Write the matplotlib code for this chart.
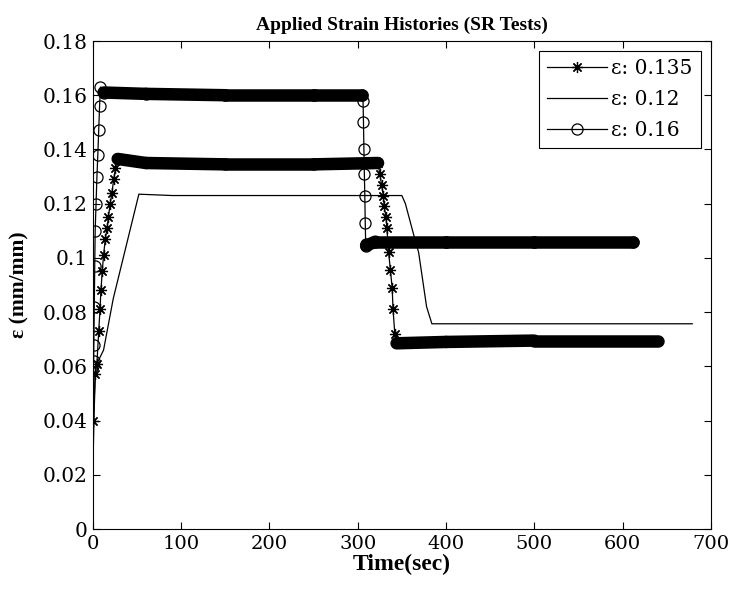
import numpy as np
import matplotlib
matplotlib.use('Agg')
import matplotlib.pyplot as plt

plt.rcParams['font.family'] = ['Liberation Serif', 'DejaVu Serif']

# strain histories (time in sec, strain in mm/mm)
t_135 = [0.5, 2.5, 4.5, 6.5, 8, 9, 10.5, 12, 14, 16, 17.5, 19.5, 21.5, 23.5, 25.5, 28,
         60, 150, 250, 323, 325, 327, 329, 330, 332, 333, 335, 337, 339, 340, 342, 344,
         400, 500, 640]
e_135 = [0.040, 0.057, 0.061, 0.073, 0.081, 0.088, 0.095, 0.101, 0.107, 0.111, 0.115, 0.120,
         0.124, 0.129, 0.133, 0.1365, 0.135, 0.1345, 0.1345, 0.135, 0.131, 0.127, 0.123, 0.119,
         0.115, 0.111, 0.102, 0.0955, 0.089, 0.081, 0.072, 0.0685, 0.069, 0.0695, 0.0695]

t_12 = [0, 1.5, 3, 6, 12, 23, 52, 90, 150, 250, 300, 350, 354, 363, 369, 378, 384,
        420, 500, 600, 679]
e_12 = [0.024, 0.045, 0.060, 0.062, 0.066, 0.085, 0.1235, 0.123, 0.123, 0.123, 0.123,
        0.123, 0.120, 0.109, 0.102, 0.082, 0.0757, 0.0757, 0.0757, 0.0757, 0.0757]

t_16 = [0.5, 0.8, 1.0, 1.5, 2.0, 2.5, 3.5, 4.5, 5.5, 6.5, 7.5, 8.5,
        12, 60, 150, 250, 305, 306, 306.5, 307, 307.5, 308, 308.5, 309, 309.5,
        320, 400, 500, 612]
e_16 = [0.060, 0.062, 0.068, 0.082, 0.097, 0.110, 0.120, 0.130, 0.138, 0.147, 0.156, 0.163,
        0.161, 0.1605, 0.160, 0.160, 0.160, 0.158, 0.150, 0.140, 0.131, 0.123, 0.113, 0.105,
        0.1045, 0.106, 0.106, 0.106, 0.106]

labels = ['\u03b5: 0.135', '\u03b5: 0.12', '\u03b5: 0.16']
x_ticks = [0, 100, 200, 300, 400, 500, 600, 700]
y_ticks = [0, 0.02, 0.04, 0.06, 0.08, 0.1, 0.12, 0.14, 0.16, 0.18]
y_tick_labels = ['0', '0.02', '0.04', '0.06', '0.08', '0.1', '0.12', '0.14', '0.16', '0.18']

TICK_FONT = ['DejaVu Serif']


def plateau_band(ax, t, e, lw=9):
    # dense markers in the original merge into a thick bar on the flat parts
    t = np.asarray(t, float)
    e = np.asarray(e, float)
    slope = np.abs(np.diff(e) / np.diff(t))
    for i in np.where(slope < 2e-4)[0]:
        ax.plot(t[i:i + 2], e[i:i + 2], color='k', lw=lw, solid_capstyle='round', zorder=2)


fig = plt.figure(figsize=(7.32, 5.96), dpi=100)
ax = fig.add_axes([0.127, 0.1124, 0.844, 0.8188])

h1, = ax.plot(t_135, e_135, color='k', lw=0.9, marker=(8, 2, 0), ms=8, mew=0.9, zorder=3)
h2, = ax.plot(t_12, e_12, color='k', lw=0.9, zorder=3)
h3, = ax.plot(t_16, e_16, color='k', lw=0.9, marker='o', ms=8, mfc='none', mew=0.9, zorder=3)
plateau_band(ax, t_135, e_135)
plateau_band(ax, t_16, e_16)

ax.set_xlim(0, 700)
ax.set_ylim(0, 0.18)
ax.set_xticks(x_ticks)
ax.set_xticklabels([str(v) for v in x_ticks], family=TICK_FONT, fontsize=14)
ax.set_yticks(y_ticks)
ax.set_yticklabels(y_tick_labels, family=TICK_FONT, fontsize=14.5)
ax.tick_params(direction='in', top=True, right=True, length=5, width=0.8, pad=4)
for sp in ax.spines.values():
    sp.set_linewidth(0.8)

ax.set_title('Applied Strain Histories (SR Tests)', fontsize=14, fontweight='bold', pad=8)
ax.set_xlabel('Time(sec)', fontsize=17, fontweight='bold', labelpad=1)
ax.set_ylabel('\u03b5 (mm/mm)', fontsize=15.5, fontweight='bold', labelpad=9)

leg = ax.legend([h1, h2, h3], labels, loc='upper right', numpoints=1,
                prop={'family': TICK_FONT, 'size': 14.5},
                fancybox=False, edgecolor='k', framealpha=1, handlelength=3.0,
                handletextpad=0.2, borderaxespad=0.5, labelspacing=0.6)
leg.get_frame().set_linewidth(0.8)

fig.savefig('out.png', dpi=100)
